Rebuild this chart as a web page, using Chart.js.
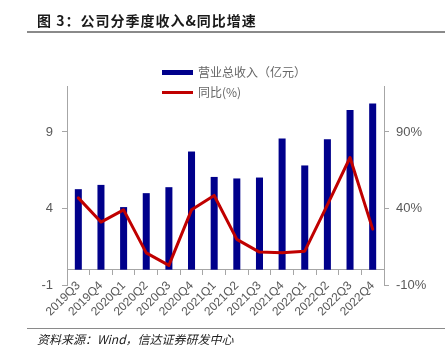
<!DOCTYPE html>
<html><head><meta charset="utf-8">
<script src="https://cdn.jsdelivr.net/npm/chart.js@4.4.1/dist/chart.umd.min.js"></script>
<style>
html,body{margin:0;padding:0;background:#fff;}
#wrap{position:relative;width:445px;height:352px;overflow:hidden;}
#c{position:absolute;left:0;top:0;}
#title{position:absolute;left:37px;top:10px;font-weight:bold;font-size:14px;font-family:"Noto Sans CJK SC","Liberation Sans",sans-serif;color:#1a1a1a;letter-spacing:1px;white-space:nowrap;line-height:20px;}
#tline{position:absolute;left:27px;top:31px;width:418px;height:2px;background:#8a8a8a;}
#fline{position:absolute;left:27px;top:328px;width:418px;height:1px;background:#8a8a8a;}
#foot{position:absolute;left:37px;top:331px;font-style:italic;font-size:12px;font-family:"Noto Sans CJK SC","Liberation Sans",sans-serif;color:#222;white-space:nowrap;line-height:16px;}
</style></head>
<body>
<div id="wrap">
<canvas id="c" width="445" height="352"></canvas>
<div id="title">图 3：公司分季度收入&amp;同比增速</div>
<div id="tline"></div>
<div id="fline"></div>
<div id="foot">资料来源：Wind，信达证券研发中心</div>
</div>
<script>
const categories = ['2019Q3','2019Q4','2020Q1','2020Q2','2020Q3','2020Q4','2021Q1','2021Q2','2021Q3','2021Q4','2022Q1','2022Q2','2022Q3','2022Q4'];
const revenue = [5.26,5.54,4.09,5.0,5.39,7.72,6.06,5.96,6.02,8.57,6.81,8.52,10.44,10.85];
const yoy = [46.9,31.1,39.1,11.0,2.8,39.1,48.5,19.8,11.5,11.0,12.1,42.4,73.3,26.5];
const leftTicks = [-1,4,9];
const rightTicks = [-10,40,90];
const revenueLabel = '营业总收入（亿元）';
const yoyLabel = '同比(%)';

const axisColor = '#a6a6a6';
const tickFont = {family:'"Liberation Sans", Arial, sans-serif', size:13};

const legendPlugin = {
  id:'customLegend',
  afterDraw(chart){
    const ctx = chart.ctx;
    const ds = chart.data.datasets;
    ctx.save();
    ctx.font = '12px "Noto Sans CJK SC", sans-serif';
    ctx.textBaseline = 'middle';
    ctx.fillStyle = ds[0].backgroundColor;
    ctx.fillRect(162, 70, 31, 5);
    ctx.fillStyle = '#666';
    ctx.fillText(ds[0].label, 198, 72.5);
    ctx.strokeStyle = ds[1].borderColor;
    ctx.lineWidth = 3;
    ctx.beginPath(); ctx.moveTo(162, 92.5); ctx.lineTo(193, 92.5); ctx.stroke();
    ctx.fillText(ds[1].label, 198, 92.5);
    ctx.restore();
  }
};

new Chart(document.getElementById('c'), {
  type:'bar',
  data:{
    labels:categories,
    datasets:[
      {label:revenueLabel, data:revenue, backgroundColor:'#00008b', borderWidth:0, yAxisID:'y', order:1, categoryPercentage:1.0, barPercentage:0.31},
      {type:'line', label:yoyLabel, data:yoy, borderColor:'#c00000', backgroundColor:'#c00000', borderWidth:3, pointRadius:0, tension:0, yAxisID:'y1', order:0, borderJoinStyle:'round', borderCapStyle:'round'}
    ]
  },
  options:{
    responsive:false,
    animation:false,
    layout:{padding:{top:86, bottom:67, left:0, right:0}},
    plugins:{legend:{display:false}, tooltip:{enabled:false}, title:{display:false}},
    scales:{
      x:{
        position:{y:0},
        grid:{display:true, drawOnChartArea:false, drawTicks:true, tickLength:5, color:axisColor, offset:true},
        border:{display:true, color:axisColor, width:1},
        ticks:{autoSkip:false, minRotation:45, maxRotation:45, color:'#595959', font:{family:'"Liberation Sans", Arial, sans-serif', size:12}, padding:4}
      },
      y:{
        position:'left', min:-1, max:12,
        afterFit(s){ s.width = 67; },
        afterBuildTicks(s){ s.ticks = leftTicks.map(v=>({value:v})); },
        grid:{drawOnChartArea:false, drawTicks:true, tickLength:5, color:axisColor},
        border:{display:true, color:axisColor, width:1},
        ticks:{color:'#595959', font:tickFont, padding:9}
      },
      y1:{
        position:'right', min:-10, max:120,
        afterFit(s){ s.width = 61; },
        afterBuildTicks(s){ s.ticks = rightTicks.map(v=>({value:v})); },
        grid:{drawOnChartArea:false, drawTicks:true, tickLength:5, color:axisColor},
        border:{display:true, color:axisColor, width:1},
        ticks:{color:'#595959', font:tickFont, padding:7, callback:v=>v+'%'}
      }
    }
  },
  plugins:[legendPlugin]
});
</script>
</body></html>
